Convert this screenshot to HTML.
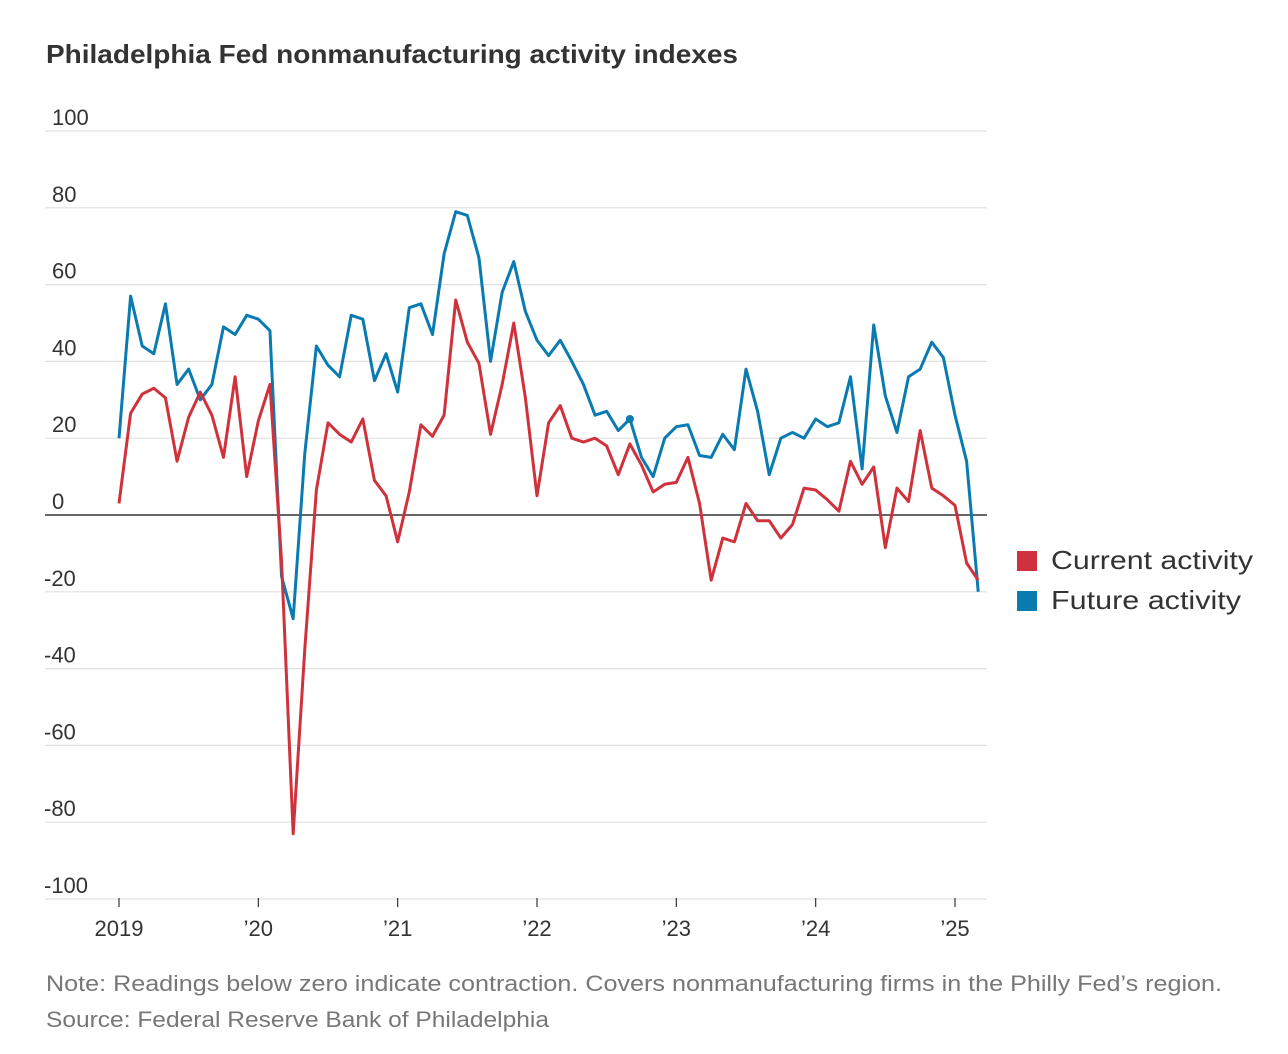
<!DOCTYPE html>
<html><head><meta charset="utf-8">
<style>
body{margin:0;background:#fff;font-family:"Liberation Sans",sans-serif;}
svg{display:block}
</style></head>
<body>
<svg id="chart" width="1288" height="1054">
<text x="46" y="63" font-size="26" font-weight="bold" fill="#333" textLength="692" lengthAdjust="spacingAndGlyphs">Philadelphia Fed nonmanufacturing activity indexes</text>
<g id="grid"></g><g id="xaxis"></g><g id="lines"></g>
<g>
<rect x="1017" y="551" width="20" height="20" fill="#d0323c"/>
<text x="1051" y="569" font-size="26" fill="#333" textLength="202" lengthAdjust="spacingAndGlyphs">Current activity</text>
<rect x="1017" y="591" width="20" height="20" fill="#0a7bb0"/>
<text x="1051" y="609" font-size="26" fill="#333" textLength="190" lengthAdjust="spacingAndGlyphs">Future activity</text>
</g>
<text x="46" y="991" font-size="22" fill="#777" textLength="1176" lengthAdjust="spacingAndGlyphs">Note: Readings below zero indicate contraction. Covers nonmanufacturing firms in the Philly Fed’s region.</text>
<text x="46" y="1027" font-size="22" fill="#777" textLength="503" lengthAdjust="spacingAndGlyphs">Source: Federal Reserve Bank of Philadelphia</text>
</svg>
<script>
const yTicks=[100,80,60,40,20,0,-20,-40,-60,-80,-100];
const xLabels=["2019","’20","’21","’22","’23","’24","’25"];
const current=[3,26.5,31.5,33,30.5,14,25.5,32,26,15,36,10,24.5,34,-12,-83,-35,6.5,24,21,19,25,9,5,-7,6,23.5,20.5,26,56,45,39.5,21,34,50,30.5,5,24,28.5,20,19,20,18,10.5,18.5,13,6,8,8.5,15,3,-17,-6,-7,3,-1.5,-1.5,-6,-2.5,7,6.5,4,1,14,8,12.5,-8.5,7,3.5,22,7,5,2.5,-12.5,-17];
const future=[20,57,44,42,55,34,38,30,34,49,47,52,51,48,-16,-27,16,44,39,36,52,51,35,42,32,54,55,47,68,79,78,67,40,58,66,53,45.5,41.5,45.5,40,34,26,27,22,25,15,10,20,23,23.5,15.5,15,21,17,38,27,10.5,20,21.5,20,25,23,24,36,12,49.5,31,21.5,36,38,45,41,26,14,-20];
const NS="http://www.w3.org/2000/svg";
const x=i=>119+i*(836/72);
const y=v=>515-v*3.84;
const grid=document.getElementById('grid');
yTicks.forEach(t=>{
 const l=document.createElementNS(NS,'line');
 l.setAttribute('x1',45);l.setAttribute('x2',987);l.setAttribute('y1',y(t));l.setAttribute('y2',y(t));
 l.setAttribute('stroke',t===0?'#333':'#e0e0e0');l.setAttribute('stroke-width',t===0?1.5:1.2);
 
 
 grid.appendChild(l);
 const tx=document.createElementNS(NS,'text');
 tx.setAttribute('x',t<0?44:52);tx.setAttribute('y',y(t)-6);tx.setAttribute('font-size',22);tx.setAttribute('fill','#333');
 tx.textContent=t;
 
 
 grid.appendChild(tx);
});
const xa=document.getElementById('xaxis');
xLabels.forEach((s,k)=>{
 const xx=x(k*12);
 const l=document.createElementNS(NS,'line');
 l.setAttribute('x1',xx);l.setAttribute('x2',xx);l.setAttribute('y1',898);l.setAttribute('y2',907);
 l.setAttribute('stroke','#333');l.setAttribute('stroke-width',1.2);
 
 
 xa.appendChild(l);
 const tx=document.createElementNS(NS,'text');
 tx.setAttribute('x',xx);tx.setAttribute('y',936);tx.setAttribute('font-size',22);tx.setAttribute('fill','#333');tx.setAttribute('text-anchor','middle');
 tx.textContent=s;
 
 
 xa.appendChild(tx);
});
const lg=document.getElementById('lines');
[[future,'#0a7bb0','future-activity-line'],[current,'#d0323c','current-activity-line']].forEach(([d,c,n])=>{
 const p=document.createElementNS(NS,'polyline');
 p.setAttribute('points',d.map((v,i)=>x(i)+','+y(v)).join(' '));
 p.setAttribute('fill','none');p.setAttribute('stroke',c);p.setAttribute('stroke-width',3);p.setAttribute('stroke-linejoin','round');
 
 
 lg.appendChild(p);
});
const dot=document.createElementNS(NS,'circle');
dot.setAttribute('cx',x(44));dot.setAttribute('cy',y(future[44]));dot.setAttribute('r',4);dot.setAttribute('fill','#0a7bb0');


lg.appendChild(dot);
</script>
</body></html>
